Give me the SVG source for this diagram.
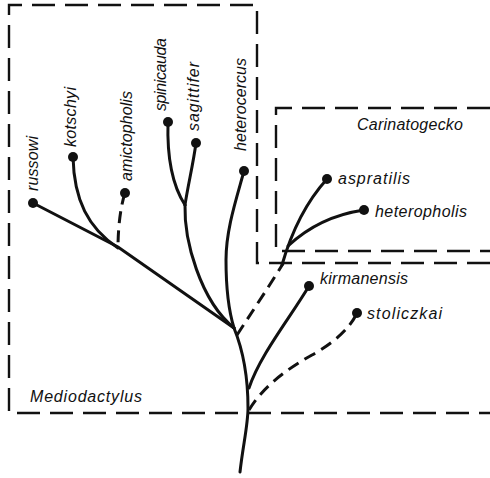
<svg xmlns="http://www.w3.org/2000/svg" width="490" height="478" viewBox="0 0 490 478">
<style>
.box{fill:none;stroke:#111;stroke-width:2.4;stroke-dasharray:23 10}
.br{fill:none;stroke:#111;stroke-width:3;stroke-linecap:round}
.dsh{stroke-dasharray:12 7;stroke-linecap:butt}
.dot{fill:#111}
text{font-family:"Liberation Sans",Arial,sans-serif;font-style:italic;font-size:16px;fill:#111}
</style>
<rect width="490" height="478" fill="#fff"/>
<g id="mediodactylus">
<path class="box" d="M490,263 L257,263 L257,5 L9,5 L9,413 L490,413"/>
<text x="30" y="402" textLength="112" lengthAdjust="spacing">Mediodactylus</text>
</g>
<g id="carinatogecko">
<path class="box" d="M490,108 L276,108 L276,251 L490,251"/>
<text x="357" y="130" textLength="106" lengthAdjust="spacing">Carinatogecko</text>
</g>
<g id="connectors">
<path class="br" d="M240,472 C243,445 248,425 248,408 C248,380 245,355 234,328"/>
<path class="br" d="M249,388 C260,355 290,318 309,286"/>
<path class="br dsh" d="M249,410 C262,388 285,370 312,355 C335,342 350,328 357,313"/>
<path class="br dsh" d="M237,335 C250,315 270,285 284,262"/>
<path class="br" d="M282,265 C292,230 308,200 327,179"/>
<path class="br" d="M288,246 C305,230 330,215 364,210"/>
<path class="br" d="M33,203 L118,247 L234,328"/>
<path class="br" d="M73,157 C74,200 88,228 118,248"/>
<path class="br dsh" d="M125,193 C121,205 118,225 118,248"/>
<path class="br" d="M168,122 C167,155 172,185 185,205"/>
<path class="br" d="M196,143 C193,165 188,185 185,205"/>
<path class="br" d="M185,205 C184,240 200,300 234,328"/>
<path class="br" d="M244,171 C236,200 226,230 226,260 C226,290 230,315 234,328"/>
</g>
<g id="russowi"><circle class="dot" cx="33" cy="203" r="5"/><text transform="translate(38,191) rotate(-90)" textLength="55" lengthAdjust="spacing">russowi</text></g>
<g id="kotschyi"><circle class="dot" cx="73" cy="157" r="5"/><text transform="translate(76,147) rotate(-90)" textLength="60" lengthAdjust="spacing">kotschyi</text></g>
<g id="amictopholis"><circle class="dot" cx="125" cy="193" r="5"/><text transform="translate(132,181) rotate(-90)" textLength="90" lengthAdjust="spacing">amictopholis</text></g>
<g id="spinicauda"><circle class="dot" cx="168" cy="122" r="5"/><text transform="translate(166,111) rotate(-90)" textLength="73" lengthAdjust="spacing">spinicauda</text></g>
<g id="sagittifer"><circle class="dot" cx="196" cy="143" r="5"/><text transform="translate(199,131) rotate(-90)" textLength="69" lengthAdjust="spacing">sagittifer</text></g>
<g id="heterocercus"><circle class="dot" cx="244" cy="171" r="5"/><text transform="translate(246,151) rotate(-90)" textLength="93" lengthAdjust="spacing">heterocercus</text></g>
<g id="aspratilis"><circle class="dot" cx="327" cy="179" r="5"/><text x="338" y="184" textLength="72" lengthAdjust="spacing">aspratilis</text></g>
<g id="heteropholis"><circle class="dot" cx="364" cy="210" r="5"/><text x="375" y="217" textLength="92" lengthAdjust="spacing">heteropholis</text></g>
<g id="kirmanensis"><circle class="dot" cx="309" cy="286" r="5"/><text x="320" y="284" textLength="88" lengthAdjust="spacing">kirmanensis</text></g>
<g id="stoliczkai"><circle class="dot" cx="357" cy="313" r="5"/><text x="367" y="319" textLength="75" lengthAdjust="spacing">stoliczkai</text></g>
</svg>
